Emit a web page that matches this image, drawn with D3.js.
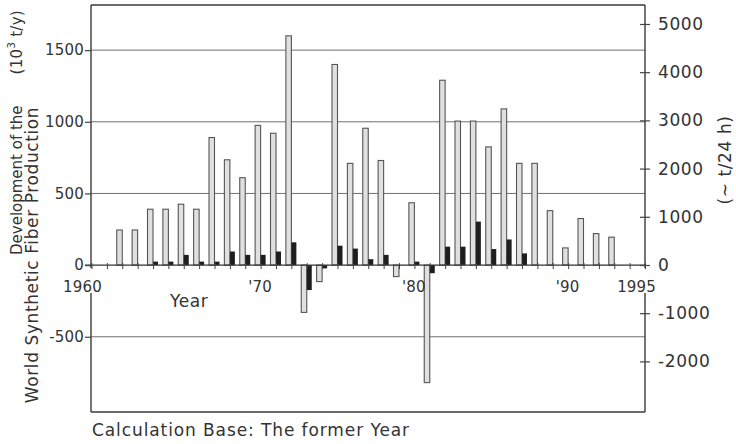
<!DOCTYPE html>
<html>
<head>
<meta charset="utf-8">
<script src="https://cdn.jsdelivr.net/npm/d3@7/dist/d3.min.js"></script>
<style>
  html, body { margin: 0; padding: 0; background: #fff; }
  svg { display: block; }
  text { font-family: "DejaVu Sans", sans-serif; fill: #333; }
</style>
</head>
<body>
<svg id="chart" width="736" height="444"></svg>
<script>
// ---- data ----
const years = [1962,1963,1964,1965,1966,1967,1968,1969,1970,1971,1972,1973,1974,1975,1976,1977,1978,1979,1980,1981,1982,1983,1984,1985,1986,1987,1988,1989,1990,1991,1992,1993,1994];
// change of production, 10^3 t/y (left axis)
const production = [245,245,390,390,425,390,890,735,610,975,920,1600,-330,-115,1400,710,955,730,-80,435,-820,1290,1005,1005,825,1090,710,710,380,120,325,220,195];
// change of capacity, ~t/24 h (right axis)
const capacity = [0,0,70,70,210,70,70,280,210,210,280,470,-520,-70,400,340,120,210,0,70,-170,380,380,900,330,530,240,0,0,0,0,0,0];
const leftTicks = [-500,0,500,1000,1500];
const gridValues = [-500,500,1000,1500];
const rightTicks = [-2000,-1000,0,1000,2000,3000,4000,5000];
const xTickYears = d3.range(1960, 1997);
const xLabelYears = [1960,1970,1980,1990,1995];
const xLabels = ["1960","'70","'80","'90","1995"];

// ---- layout ----
const L = 91, R = 645, T = 5, B = 412;
const svg = d3.select("#chart");

const x = d3.scaleLinear().domain([1960, 1996]).range([91.5, 645]);
const yL = d3.scaleLinear().domain([-1025, 1815]).range([B, T]);
const yR = d3.scaleLinear().domain([-3050, 5394]).range([B, T]);
const y0 = yL(0);

// gridlines
svg.append("g").selectAll("line").data(gridValues).join("line")
  .attr("x1", L).attr("x2", R)
  .attr("y1", d => yL(d)).attr("y2", d => yL(d))
  .attr("stroke", "#707070").attr("stroke-width", 1);

// frame
const frame = svg.append("g").attr("stroke", "#3a3a3a").attr("stroke-width", 1.4).attr("fill", "none");
frame.append("line").attr("x1", L).attr("x2", R).attr("y1", T).attr("y2", T);
frame.append("line").attr("x1", L).attr("x2", R).attr("y1", B).attr("y2", B);
[L, R].forEach(xx => {
  frame.append("line").attr("x1", xx).attr("x2", xx).attr("y1", T).attr("y2", y0 + 3);
  frame.append("line").attr("x1", xx).attr("x2", xx).attr("y1", y0 + 28).attr("y2", B);
});

// bars
const bw = 5.5;
svg.append("g").selectAll("rect").data(years).join("rect")
  .attr("x", (d) => x(d) - bw)
  .attr("width", bw)
  .attr("y", (d, i) => Math.min(yL(production[i]), y0))
  .attr("height", (d, i) => Math.abs(yL(production[i]) - y0))
  .attr("fill", "#e0e0e0").attr("stroke", "#555").attr("stroke-width", 1.1);

svg.append("g").selectAll("rect").data(years).join("rect")
  .attr("x", (d) => x(d))
  .attr("width", 5)
  .attr("y", (d, i) => Math.min(yR(capacity[i]), y0))
  .attr("height", (d, i) => Math.abs(yR(capacity[i]) - y0))
  .attr("fill", "#1e1e1e");

// x axis (zero line with yearly ticks)
const xAxis = svg.append("g").attr("transform", `translate(0,${y0})`)
  .call(d3.axisBottom(x).tickValues(xTickYears).tickSize(4).tickFormat(""));
xAxis.select(".domain").attr("d", `M${L - 6},0H${R}`).attr("stroke", "#333").attr("stroke-width", 1.4);
xAxis.selectAll(".tick line").attr("y1", -2).attr("stroke", "#444");

// x labels
const xlab = svg.append("g").attr("font-size", 15).attr("letter-spacing", 0.2);
xLabelYears.forEach((yr, i) => {
  const t = xlab.append("text").attr("y", y0 + 27).text(xLabels[i]);
  if (i === 0) t.attr("x", x(yr) - 9).attr("text-anchor", "middle");
  else if (i === 4) t.attr("x", x(yr) + 7).attr("text-anchor", "middle");
  else t.attr("x", x(yr) + 3).attr("text-anchor", "start");
});
svg.append("text").attr("x", 170).attr("y", 307).attr("font-size", 17).attr("letter-spacing", 0.6).text("Year");

// left axis
const la = svg.append("g").attr("transform", `translate(${L},0)`)
  .call(d3.axisLeft(yL).tickValues(leftTicks).tickSize(6).tickPadding(1).tickFormat(d => d < 0 ? "-" + Math.abs(d) : d));
la.select(".domain").remove();
la.selectAll(".tick line").attr("stroke", "#444").attr("stroke-width", 1.2);
la.selectAll(".tick text").attr("font-size", 15).attr("font-family", "DejaVu Sans").attr("fill", "#333").attr("letter-spacing", 0.2);

// right axis
const ra = svg.append("g").attr("transform", `translate(${R},0)`)
  .call(d3.axisRight(yR).tickValues(rightTicks).tickSize(5).tickPadding(8).tickFormat(d => d < 0 ? "-" + Math.abs(d) : d));
ra.select(".domain").remove();
ra.selectAll(".tick line").attr("x1", -5).attr("stroke", "#444").attr("stroke-width", 1.2);
ra.selectAll(".tick text").attr("font-size", 17).attr("font-family", "DejaVu Sans").attr("fill", "#333").attr("letter-spacing", 0.6);

// axis titles
svg.append("text").attr("transform", "translate(22,255) rotate(-90)")
  .attr("font-size", 15).attr("text-anchor", "start")
  .text("Development of the");
const unit = svg.append("text").attr("transform", "translate(22,10) rotate(-90)")
  .attr("font-size", 15).attr("letter-spacing", 0.3).attr("text-anchor", "end");
unit.append("tspan").text("(10");
unit.append("tspan").attr("dy", -7).attr("font-size", 10).text("3");
unit.append("tspan").attr("dy", 7).text(" t/y)");
svg.append("text").attr("transform", "translate(38,255) rotate(-90)")
  .attr("font-size", 17).attr("letter-spacing", 0.6).attr("text-anchor", "middle")
  .text("World Synthetic Fiber Production");
svg.append("text").attr("transform", "translate(731,160) rotate(-90)")
  .attr("font-size", 17).attr("letter-spacing", 0.6).attr("text-anchor", "middle")
  .text("(~ t/24 h)");

svg.append("text").attr("x", 92).attr("y", 436).attr("font-size", 17).attr("letter-spacing", 0.9)
  .text("Calculation Base: The former Year");
</script>
</body>
</html>
